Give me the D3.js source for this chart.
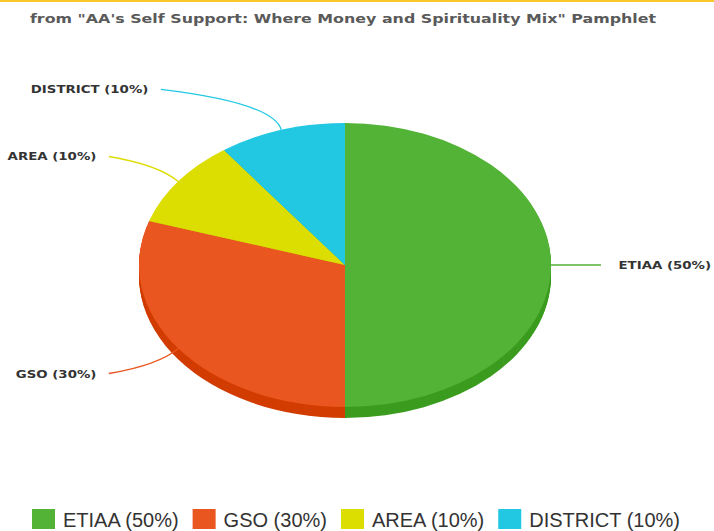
<!DOCTYPE html>
<html>
<head>
<meta charset="utf-8">
<script src="https://cdn.jsdelivr.net/npm/d3@7"></script>
<style>
  html, body { margin: 0; padding: 0; background: #fff; }
  svg { display: block; }
</style>
</head>
<body>
<div id="chart"></div>
<script>
const categories = ["ETIAA", "GSO", "AREA", "DISTRICT"];
const shares = [50, 30, 10, 10];
const topColors = ["#52b336", "#ea561f", "#dcdd00", "#22c8e2"];
const sideColors = ["#3b9c1f", "#d23d02", "#b9ba00", "#1aa7bd"];
const chartTitle = "from \"AA's Self Support: Where Money and Spirituality Mix\" Pamphlet";

const width = 714, height = 531;
const cx = 345, cy = 265, rx = 206, ry = 142, depth = 11;
const stretch = 1.27; // labels in the source are drawn wide

const labelOf = i => `${categories[i]} (${shares[i]}%)`;

const svg = d3.select("#chart")
  .append("svg")
  .attr("width", width)
  .attr("height", height);

// thin yellow band across the top
svg.append("rect")
  .attr("x", 0).attr("y", 0)
  .attr("width", width).attr("height", 2)
  .attr("fill", "#f7c72c");

svg.append("text")
  .attr("transform", `translate(343, 23) scale(${stretch}, 1)`)
  .attr("text-anchor", "middle")
  .attr("font-family", "DejaVu Sans, sans-serif")
  .attr("font-weight", "bold")
  .attr("font-size", 12.5)
  .attr("fill", "#5a5a5a")
  .text(chartTitle);

const pie = d3.pie().sort(null).value(d => d);
const arcs = pie(shares);
const arc = d3.arc().innerRadius(0).outerRadius(rx);

// side wall: stack darker copies under the top face
const side = svg.append("g");
for (let i = depth; i >= 1; i--) {
  side.append("g")
    .attr("transform", `translate(${cx}, ${cy + i}) scale(1, ${ry / rx})`)
    .selectAll("path")
    .data(arcs)
    .enter()
    .append("path")
    .attr("d", arc)
    .attr("fill", (d, j) => sideColors[j]);
}

svg.append("g")
  .attr("transform", `translate(${cx}, ${cy}) scale(1, ${ry / rx})`)
  .selectAll("path")
  .data(arcs)
  .enter()
  .append("path")
  .attr("d", arc)
  .attr("fill", (d, i) => topColors[i]);

// callout lines and labels
const labels = arcs.map((d, i) => {
  const a = (d.startAngle + d.endAngle) / 2;
  const s = Math.sin(a), c = Math.cos(a);
  const sign = s >= 0 ? 1 : -1;
  const p0 = [cx + s * rx, cy - c * ry];
  const p1 = [cx + s * rx * 1.12, cy - c * ry * 1.2];
  const p2 = [cx + sign * 152 + s * 104, cy - c * ry * 1.3];
  return { i, sign, p0, p1, p2 };
});

svg.append("g")
  .selectAll("path")
  .data(labels)
  .enter()
  .append("path")
  .attr("d", d => `M${d.p0}Q${d.p1} ${d.p2}`)
  .attr("fill", "none")
  .attr("stroke", d => topColors[d.i])
  .attr("stroke-width", 1.3);

svg.append("g")
  .selectAll("text")
  .data(labels)
  .enter()
  .append("text")
  .attr("transform", d => `translate(${d.p2[0] + d.sign * 15 + 2.5}, ${d.p2[1] + 4}) scale(${stretch}, 1)`)
  .attr("text-anchor", d => d.sign > 0 ? "start" : "end")
  .attr("font-family", "DejaVu Sans, sans-serif")
  .attr("font-weight", "bold")
  .attr("font-size", 10.5)
  .attr("fill", "#333")
  .text(d => labelOf(d.i));

// legend
const legend = svg.append("g");
let lx = 32;
categories.forEach((cat, i) => {
  legend.append("rect")
    .attr("x", lx).attr("y", 509)
    .attr("width", 23).attr("height", 20)
    .attr("fill", topColors[i]);
  const t = legend.append("text")
    .attr("x", lx + 31)
    .attr("y", 527)
    .attr("font-family", "Liberation Sans, Arial, sans-serif")
    .attr("font-size", 20)
    .attr("fill", "#333")
    .text(labelOf(i));
  lx += 31 + t.node().getComputedTextLength() + 14;
});
</script>
</body>
</html>
